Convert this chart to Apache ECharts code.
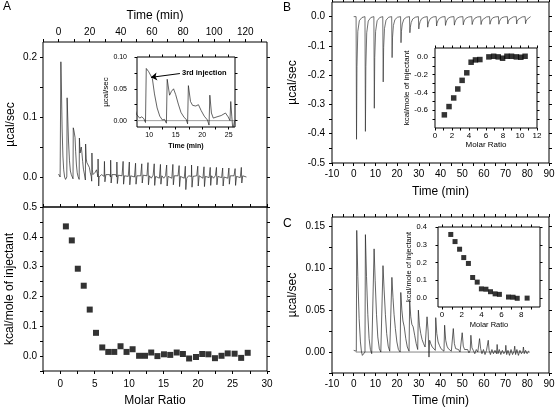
<!DOCTYPE html>
<html><head><meta charset="utf-8">
<script src="https://cdn.jsdelivr.net/npm/echarts@6/dist/echarts.min.js"></script>
<style>html,body{margin:0;padding:0;background:#fff}#c{width:558px;height:415px}</style>
</head><body><div id="c"></div>
<script>
// ---------------- DATA ----------------
// Panel A – raw thermogram (time min, µcal/sec)
const A_trace = [
[0,0.005],[0.6,0.004],[1.0,0.0],[1.3,0.002],[1.5,0.192],[1.9,0.14],[2.3,0.08],[2.8,0.035],[3.3,0.012],[3.9,0.0],[4.5,-0.004],[5.3,0.0],
[5.5,0.132],[5.9,0.1],[6.4,0.06],[7.0,0.028],[7.6,0.01],[8.2,0.004],[8.6,0.006],[9.0,0.003],[9.3,-0.003],
[9.45,0.082],[9.9,0.077],[10.2,0.08],[10.6,0.066],[11.0,0.042],[11.5,0.02],[12.0,0.007],[12.5,0.001],[12.9,0.002],[13.25,-0.004],
[13.4,0.065],[13.85,0.04],[14.2,0.046],[14.6,0.05],[15.0,0.041],[15.5,0.026],[16.0,0.013],[16.6,0.005],[17.0,0.002],[17.25,-0.005],
[17.4,0.055],[17.8,0.03],[18.2,0.024],[18.8,0.023],[19.3,0.025],[19.8,0.016],[20.4,0.007],[21.0,0.001],[21.3,-0.007],
[21.45,0.04],[21.75,0.012],[22.1,0.004],[22.8,0.006],[23.6,0.008],[24.4,0.012],[24.9,0.006],[25.25,0.0],
[25.4,0.03],[25.6,0.006],[25.8,-0.015],[26.1,0.0],[26.8,0.002],[27.6,0.004],[28.4,0.003],[29.3,0.001],
[29.5,0.026],[29.8,-0.008],[30.4,0.004],[31.6,0.007],[32.8,0.004],[33.4,0.0],
[33.5,0.028],[33.8,-0.01],[34.4,0.004],[35.6,0.007],[36.8,0.004],[37.4,0.0],
[37.5,0.025],[37.8,-0.011],[38.4,0.003],[39.6,0.005],[40.8,0.002],[41.4,-0.001],
[41.5,0.026],[41.8,-0.012],[42.4,0.002],[43.6,0.004],[44.8,0.001],[45.4,-0.001],
[45.5,0.025],[45.8,-0.013],[46.4,0.002],[47.6,0.002],[48.8,0.0],[49.4,0.001],
[49.5,0.023],[49.8,-0.012],[50.4,0.002],[51.6,-0.001],[52.8,0.002],[53.4,0.0],
[53.5,0.022],[53.8,-0.01],[54.4,0.003],[55.6,0.0],[56.8,0.002],[57.4,-0.001],
[57.5,0.024],[57.8,-0.013],[58.4,0.002],[59.6,-0.002],[60.8,0.003],[61.4,0.0],
[61.5,0.022],[61.8,-0.014],[62.4,0.001],[63.6,0.003],[64.8,-0.002],[65.4,0.001],
[65.5,0.021],[65.8,-0.012],[66.4,0.002],[67.6,-0.002],[68.8,0.002],[69.4,0.0],
[69.5,0.02],[69.8,-0.015],[70.4,0.001],[71.6,0.002],[72.8,-0.002],[73.4,0.001],
[73.5,0.021],[73.8,-0.013],[74.4,0.002],[75.6,-0.001],[76.8,0.002],[77.4,-0.001],
[77.5,0.019],[77.8,-0.016],[78.4,0.001],[79.6,0.002],[80.8,-0.002],[81.4,0.0],
[81.5,0.018],[81.8,-0.021],[82.4,-0.002],[83.6,0.002],[84.8,-0.001],[85.4,0.001],
[85.5,0.02],[85.8,-0.017],[86.4,0.001],[87.6,-0.002],[88.8,0.002],[89.4,0.0],
[89.5,0.018],[89.8,-0.015],[90.4,0.002],[91.6,0.0],[92.8,-0.002],[93.4,0.001],
[93.5,0.017],[93.8,-0.016],[94.4,0.001],[95.6,0.002],[96.8,-0.001],[97.4,0.0],
[97.5,0.016],[97.8,-0.014],[98.4,0.002],[99.6,-0.002],[100.8,0.002],[101.4,0.0],
[101.5,0.016],[101.8,-0.013],[102.4,0.001],[103.6,0.002],[104.8,-0.001],[105.4,0.001],
[105.5,0.015],[105.8,-0.015],[106.4,0.0],[107.6,0.002],[108.8,-0.002],[109.4,0.0],
[109.5,0.015],[109.8,-0.012],[110.4,0.002],[111.6,-0.001],[112.8,0.002],[113.4,0.0],
[113.5,0.014],[113.8,-0.014],[114.4,0.001],[115.6,0.002],[116.8,-0.001],[117.4,0.0],
[117.5,0.016],[117.8,-0.01],[118.4,0.002],[119.6,0.001],[120.8,0.0]
];
const A_inset_baseline = [[7.7,0],[26.2,0]];
// Panel A – integrated heats
const A_ratio = [0.82,1.68,2.55,3.41,4.28,5.19,6.1,6.97,7.84,8.75,9.62,10.5,11.44,12.3,13.2,14.1,15.05,15.96,16.9,17.8,18.7,19.7,20.6,21.5,22.45,23.4,24.3,25.3,26.25,27.2];
const A_heat  = [0.435,0.388,0.293,0.236,0.156,0.078,0.029,0.014,0.014,0.033,0.014,0.023,0.001,0.001,0.012,0.0,0.006,0.004,0.012,0.007,-0.008,-0.003,0.007,0.006,-0.007,0.001,0.009,0.008,-0.006,0.011];

// Panel B – raw thermogram
const B_trace = [
[0,0],[1.1,0],[1.3,-0.419],[1.5,-0.17],[1.9,-0.05],[2.6,-0.014],[3.8,-0.003],
[5.2,0],[5.4,-0.392],[5.6,-0.17],[6.0,-0.055],[6.7,-0.015],[7.9,-0.003],
[9.3,0],[9.5,-0.313],[9.7,-0.14],[10.1,-0.05],[10.8,-0.014],[12.0,-0.003],
[13.4,0],[13.6,-0.223],[13.8,-0.105],[14.2,-0.04],[14.9,-0.012],[16.1,-0.002],
[17.5,0],[17.7,-0.14],[17.9,-0.07],[18.3,-0.03],[19.0,-0.01],[20.2,-0.002],
[21.6,0],[21.8,-0.089],[22.0,-0.05],[22.4,-0.025],[23.1,-0.009],[24.3,-0.002],
[25.7,0],[25.9,-0.055],[26.1,-0.036],[26.5,-0.02],[27.2,-0.008],[28.4,-0.002],
[29.8,0],[30.0,-0.042],[30.2,-0.029],[30.6,-0.017],[31.3,-0.007],[32.5,-0.002],
[33.9,0],[34.1,-0.036],[34.3,-0.026],[34.7,-0.015],[35.4,-0.006],[36.6,-0.001],
[38.0,0],[38.2,-0.032],[38.4,-0.023],[38.8,-0.014],[39.5,-0.006],[40.7,-0.001],
[42.1,0],[42.3,-0.03],[42.5,-0.022],[42.9,-0.013],[43.6,-0.005],[44.8,-0.001],
[46.2,0],[46.4,-0.029],[46.6,-0.021],[47.0,-0.013],[47.7,-0.005],[48.9,-0.001],
[50.3,0],[50.5,-0.028],[50.7,-0.02],[51.1,-0.012],[51.8,-0.005],[53.0,-0.001],
[54.4,0],[54.6,-0.027],[54.8,-0.02],[55.2,-0.012],[55.9,-0.005],[57.1,-0.001],
[58.5,0],[58.7,-0.027],[58.9,-0.019],[59.3,-0.011],[60.0,-0.005],[61.2,-0.001],
[62.6,0],[62.8,-0.026],[63.0,-0.019],[63.4,-0.011],[64.1,-0.004],[65.3,-0.001],
[66.7,0],[66.9,-0.026],[67.1,-0.018],[67.5,-0.011],[68.2,-0.004],[69.4,-0.001],
[70.8,0],[71.0,-0.025],[71.2,-0.018],[71.6,-0.01],[72.3,-0.004],[73.5,-0.001],
[74.9,0],[75.1,-0.025],[75.3,-0.017],[75.7,-0.01],[76.4,-0.004],[77.6,-0.001],
[79.0,0],[79.2,-0.024],[79.4,-0.017],[79.8,-0.01],[80.5,-0.004],[81.5,0]
];
const B_ratio = [1.1,1.65,2.2,2.68,3.19,3.74,4.25,4.76,5.28,6.34,6.9,7.44,7.95,8.46,9.0,9.57,10.1,10.6];
const B_heat  = [-0.652,-0.559,-0.462,-0.361,-0.264,-0.179,-0.06,-0.034,-0.03,0.0,0.007,0.0,-0.015,0.007,0.007,0.0,-0.004,0.007];

// Panel C – raw thermogram
const C_trace = [
[0,0.002],[0.5,0.0],[1.2,0.001],[1.4,0.145],[1.9,0.09],[2.5,0.04],[3.1,0.012],[3.6,0.0],[4.0,-0.004],[4.6,-0.002],[5.2,0.0],
[5.4,0.14],[5.9,0.09],[6.5,0.045],[7.1,0.016],[7.7,0.003],[8.3,-0.002],[9.2,0.0],
[9.4,0.123],[9.9,0.085],[10.5,0.045],[11.1,0.018],[11.8,0.004],[12.5,0.0],[13.2,0.0],
[13.5,0.103],[14.0,0.075],[14.6,0.045],[15.2,0.022],[15.9,0.007],[16.6,0.001],[17.3,0.0],
[17.6,0.089],[18.1,0.065],[18.6,0.045],[19.2,0.028],[19.9,0.012],[20.6,0.003],[21.4,0.0],
[21.7,0.071],[22.2,0.05],[22.7,0.037],[23.3,0.03],[24.0,0.016],[24.7,0.006],[25.5,0.001],
[25.8,0.061],[26.3,0.042],[26.8,0.033],[27.4,0.03],[28.1,0.02],[28.8,0.01],[29.5,0.003],
[29.8,0.05],[30.3,0.032],[30.9,0.022],[31.5,0.015],[32.2,0.01],[32.9,0.006],[33.5,0.004],
[33.8,0.042],[34.3,0.025],[34.7,-0.006],[35.0,0.014],[35.5,0.01],[36.2,0.006],[36.9,0.004],[37.6,0.002],
[37.8,0.041],[38.3,0.022],[38.9,0.012],[39.5,0.008],[40.2,0.004],[40.9,0.003],[41.6,0.001],
[41.9,0.032],[42.4,0.014],[43.0,0.007],[43.6,0.004],[44.3,0.003],[45.0,0.001],[45.6,0.002],
[45.9,0.028],[46.4,0.01],[47.0,0.004],[47.6,0.002],[48.3,0.003],[49.0,0.0],[49.6,0.002],
[50.0,0.023],[50.5,0.007],[51.1,0.003],[51.8,0.001],[52.5,0.003],[53.1,-0.001],[53.7,0.002],
[54.0,0.02],[54.5,0.005],[55.1,0.002],[55.8,-0.002],[56.5,0.003],[57.2,0.0],[57.8,0.002],
[58.0,0.016],[58.5,0.004],[59.1,-0.002],[59.8,0.003],[60.5,-0.003],[61.2,0.002],[61.8,0.0],
[62.0,0.014],[62.4,0.002],[63.0,-0.003],[63.7,0.003],[64.4,-0.002],[65.1,0.002],[65.8,-0.002],
[66.1,0.009],[66.5,-0.002],[67.1,0.003],[67.8,-0.003],[68.5,0.002],[69.2,-0.002],[69.9,0.001],
[70.1,0.008],[70.5,-0.003],[71.1,0.002],[71.8,-0.004],[72.5,0.003],[73.2,-0.003],[73.9,0.001],
[74.2,0.007],[74.6,-0.003],[75.2,0.003],[75.9,-0.004],[76.6,0.002],[77.3,-0.002],[78.0,0.001],
[78.2,0.006],[78.6,-0.002],[79.2,0.002],[79.9,-0.002],[80.6,0.001],[81.0,0.0]
];
const C_baseline = [[1.0,0],[81.0,0]];
const C_ratio = [0.89,1.32,1.78,2.2,2.67,3.1,3.56,3.98,4.44,4.9,5.37,5.8,6.72,7.18,7.6,8.6];
const C_heat  = [0.358,0.318,0.275,0.228,0.195,0.116,0.09,0.052,0.05,0.036,0.024,0.021,0.006,0.005,-0.001,0.0];

// Tick values / tick labels
const A_time_ticks  = [-10,0,10,20,30,40,50,60,70,80,90,100,110,120,130];
const A_time_labels = [0,20,40,60,80,100,120];
const A_y_ticks  = [-0.05,0,0.05,0.1,0.15,0.2];
const A_y_labels = [0,0.1,0.2];
const Ai_x_ticks  = [10,12.5,15,17.5,20,22.5,25];
const Ai_x_labels = [10,15,20,25];
const Ai_y_ticks  = [0,0.025,0.05,0.075,0.1];
const Ai_y_labels = [0,0.05,0.1];
const A2_x_ticks  = [-2.5,0,2.5,5,7.5,10,12.5,15,17.5,20,22.5,25,27.5,30];
const A2_x_labels = [0,5,10,15,20,25,30];
const A2_y_ticks  = [-0.05,0,0.05,0.1,0.15,0.2,0.25,0.3,0.35,0.4,0.45,0.5];
const A2_y_labels = [0,0.1,0.2,0.3,0.4,0.5];
const T_x_ticks  = [-10,-5,0,5,10,15,20,25,30,35,40,45,50,55,60,65,70,75,80,85,90];
const T_x_labels = [-10,0,10,20,30,40,50,60,70,80,90];
const B_y_ticks  = [-0.5,-0.45,-0.4,-0.35,-0.3,-0.25,-0.2,-0.15,-0.1,-0.05,0];
const B_y_labels = [-0.5,-0.4,-0.3,-0.2,-0.1,0];
const Bi_x_ticks  = [0,1,2,3,4,5,6,7,8,9,10,11,12];
const Bi_x_labels = [0,2,4,6,8,10,12];
const Bi_y_ticks  = [-0.7,-0.6,-0.5,-0.4,-0.3,-0.2,-0.1,0];
const Bi_y_labels = [-0.6,-0.4,-0.2,0];
const C_y_ticks  = [-0.025,0,0.025,0.05,0.075,0.1,0.125,0.15];
const C_y_labels = [0,0.05,0.1,0.15];
const Ci_x_ticks  = [0,1,2,3,4,5,6,7,8,9];
const Ci_x_labels = [0,2,4,6,8];
const Ci_y_ticks  = [0,0.1,0.2,0.3,0.4];
const Ci_y_labels = [0,0.1,0.2,0.3,0.4];

const ARROW_FROM = [15.8, 0.074];
const ARROW_TO   = [10.35, 0.068];

// ---------------- CHART ----------------
const FONT = '"Liberation Sans", Arial, sans-serif';
const f0 = v => String(v), f1 = v => v.toFixed(1), f2 = v => v.toFixed(2);
const xAxes = [], yAxes = [];

function ax(gi, position, min, max, ticks, labels, fmt, o) {
  o = o || {};
  const a = {
    type: 'value', gridIndex: gi, position, min, max,
    axisLine: {show: false, onZero: false}, splitLine: {show: false},
    axisTick: {show: !!ticks, inside: false, length: o.tl || 3, lineStyle: {color: '#000', width: 1}, customValues: ticks || []},
    axisLabel: labels ? {show: true, customValues: labels, formatter: fmt, fontSize: o.fs || 10, margin: o.m || 6,
      color: '#000', fontFamily: FONT} : {show: false}
  };
  if (o.name) {
    a.name = o.name; a.nameLocation = 'middle'; a.nameGap = o.ng;
    a.nameTextStyle = {fontSize: o.ns || 12, color: '#000', fontFamily: FONT, fontWeight: o.nb ? 'bold' : 'normal'};
  }
  return a;
}
function addX(a) { xAxes.push(a); return xAxes.length - 1; }
function addY(a) { yAxes.push(a); return yAxes.length - 1; }

const grids = [
  {left: 43, top: 42, width: 224, height: 165},   // 0 A top
  {left: 137, top: 57, width: 98, height: 70},    // 1 A inset
  {left: 43, top: 207, width: 224, height: 164},  // 2 A bottom
  {left: 332, top: 2, width: 217, height: 161},   // 3 B
  {left: 435, top: 48, width: 102, height: 80},   // 4 B inset
  {left: 332, top: 217, width: 217, height: 156}, // 5 C
  {left: 438, top: 227, width: 102, height: 80}   // 6 C inset
].map(g => Object.assign({show: true, borderColor: '#000', borderWidth: 1, backgroundColor: 'transparent',
  containLabel: false, outerBoundsMode: 'none'}, g));

// A top
const a0x = addX(ax(0, 'top', -10, 134, A_time_ticks, A_time_labels, f0, {m: 5, name: 'Time (min)', ng: 20}));
addX(ax(0, 'bottom', -10, 134, null, null));
const a0y = addY(ax(0, 'left', -0.05, 0.225, A_y_ticks, A_y_labels, f1, {name: 'µcal/sec', ng: 26}));
addY(ax(0, 'right', -0.05, 0.225, A_y_ticks, null));
// A inset
const a1x = addX(ax(1, 'bottom', 7.7, 26.2, Ai_x_ticks, Ai_x_labels, f0, {fs: 7, m: 5, name: 'Time (min)', ng: 16, ns: 7, nb: true, tl: 2.5}));
addX(ax(1, 'top', 7.7, 26.2, Ai_x_ticks, null, null, {tl: 2.5}));
const a1y = addY(ax(1, 'left', -0.01, 0.1, Ai_y_ticks, Ai_y_labels, f2, {fs: 7, m: 10, name: 'µcal/sec', ng: 27, ns: 8, tl: 2.5}));
addY(ax(1, 'right', -0.01, 0.1, Ai_y_ticks, null, null, {tl: 2.5}));
// A bottom
const a2x = addX(ax(2, 'bottom', -2.5, 30, A2_x_ticks, A2_x_labels, f0, {m: 8, name: 'Molar Ratio', ng: 24}));
addX(ax(2, 'top', -2.5, 30, A2_x_ticks, null));
const a2y = addY(ax(2, 'left', -0.05, 0.5, A2_y_ticks, A2_y_labels, f1, {name: 'kcal/mole of injectant', ng: 27}));
addY(ax(2, 'right', -0.05, 0.5, A2_y_ticks, null));
// B
const b0x = addX(ax(3, 'bottom', -10, 90, T_x_ticks, T_x_labels, f0, {m: 6, name: 'Time (min)', ng: 23}));
addX(ax(3, 'top', -10, 90, T_x_ticks, null));
const b0y = addY(ax(3, 'left', -0.5, 0.05, B_y_ticks, B_y_labels, f1, {m: 7, name: 'µcal/sec', ng: 33}));
addY(ax(3, 'right', -0.5, 0.05, B_y_ticks, null));
// B inset
const b1x = addX(ax(4, 'bottom', 0, 12, Bi_x_ticks, Bi_x_labels, f0, {fs: 8, m: 4, name: 'Molar Ratio', ng: 13, ns: 8, tl: 2.5}));
addX(ax(4, 'top', 0, 12, Bi_x_ticks, null, null, {tl: 2.5}));
const b1y = addY(ax(4, 'left', -0.8, 0.1, Bi_y_ticks, Bi_y_labels, f1, {fs: 8, m: 7, name: 'kcal/mole of injectant', ng: 24, ns: 8, tl: 2.5}));
addY(ax(4, 'right', -0.8, 0.1, Bi_y_ticks, null, null, {tl: 2.5}));
// C
const c0x = addX(ax(5, 'bottom', -10, 90, T_x_ticks, T_x_labels, f0, {m: 6, name: 'Time (min)', ng: 22}));
addX(ax(5, 'top', -10, 90, T_x_ticks, null));
const c0y = addY(ax(5, 'left', -0.025, 0.161, C_y_ticks, C_y_labels, f2, {m: 7, name: 'µcal/sec', ng: 33}));
addY(ax(5, 'right', -0.025, 0.161, C_y_ticks, null));
// C inset
const c1x = addX(ax(6, 'bottom', -0.4, 9.9, Ci_x_ticks, Ci_x_labels, f0, {fs: 8, m: 4, name: 'Molar Ratio', ng: 14, ns: 7.5, tl: 2.5}));
addX(ax(6, 'top', -0.4, 9.9, Ci_x_ticks, null, null, {tl: 2.5}));
const c1y = addY(ax(6, 'left', -0.05, 0.4, Ci_y_ticks, Ci_y_labels, f1, {fs: 7.5, m: 11, name: 'kcal/mole of injectant', ng: 2, ns: 7.5, tl: 2.5}));
addY(ax(6, 'right', -0.05, 0.4, Ci_y_ticks, null, null, {tl: 2.5}));

const zip = (xs, ys) => xs.map((x, i) => [x, ys[i]]);
const line = (data, xi, yi, color, w, extra) => Object.assign({
  type: 'line', data, xAxisIndex: xi, yAxisIndex: yi, showSymbol: false, symbol: 'none',
  lineStyle: {color, width: w}, animation: false, silent: true, clip: true
}, extra || {});
const scat = (data, xi, yi, size) => ({
  type: 'scatter', data, xAxisIndex: xi, yAxisIndex: yi, symbol: 'rect', symbolSize: size,
  itemStyle: {color: '#000'}, animation: false, silent: true
});

const option = {
  animation: false,
  backgroundColor: '#fff',
  textStyle: {fontFamily: FONT},
  grid: grids, xAxis: xAxes, yAxis: yAxes,
  series: [
    line(A_trace, a0x, a0y, '#222', 0.7),
    line(A_inset_baseline, a1x, a1y, '#888', 0.8),
    line(A_trace, a1x, a1y, '#222', 0.7, {
      markLine: {silent: true, animation: false, symbol: ['none', 'arrow'], symbolSize: 6,
        lineStyle: {color: '#000', width: 1, type: 'solid'}, label: {show: false},
        data: [[{coord: ARROW_FROM}, {coord: ARROW_TO}]]}
    }),
    scat(zip(A_ratio, A_heat), a2x, a2y, 6),
    line(B_trace, b0x, b0y, '#333', 0.7),
    scat(zip(B_ratio, B_heat), b1x, b1y, 5.5),
    line(C_baseline, c0x, c0y, '#333', 0.6),
    line(C_trace, c0x, c0y, '#222', 0.7),
    scat(zip(C_ratio, C_heat), c1x, c1y, 5)
  ],
  graphic: [
    {type: 'text', left: 3, top: 1, style: {text: 'A', fontSize: 12, fontFamily: FONT, fill: '#000'}},
    {type: 'text', left: 283, top: 2, style: {text: 'B', fontSize: 12, fontFamily: FONT, fill: '#000'}},
    {type: 'text', left: 283, top: 218, style: {text: 'C', fontSize: 12, fontFamily: FONT, fill: '#000'}},
    {type: 'text', left: 182, top: 69, style: {text: '3rd injection', fontSize: 7.5, fontWeight: 'bold', fontFamily: FONT, fill: '#000'}}
  ]
};
const chart = echarts.init(document.getElementById('c'), null, {renderer: 'canvas'});
chart.setOption(option);
</script></body></html>
